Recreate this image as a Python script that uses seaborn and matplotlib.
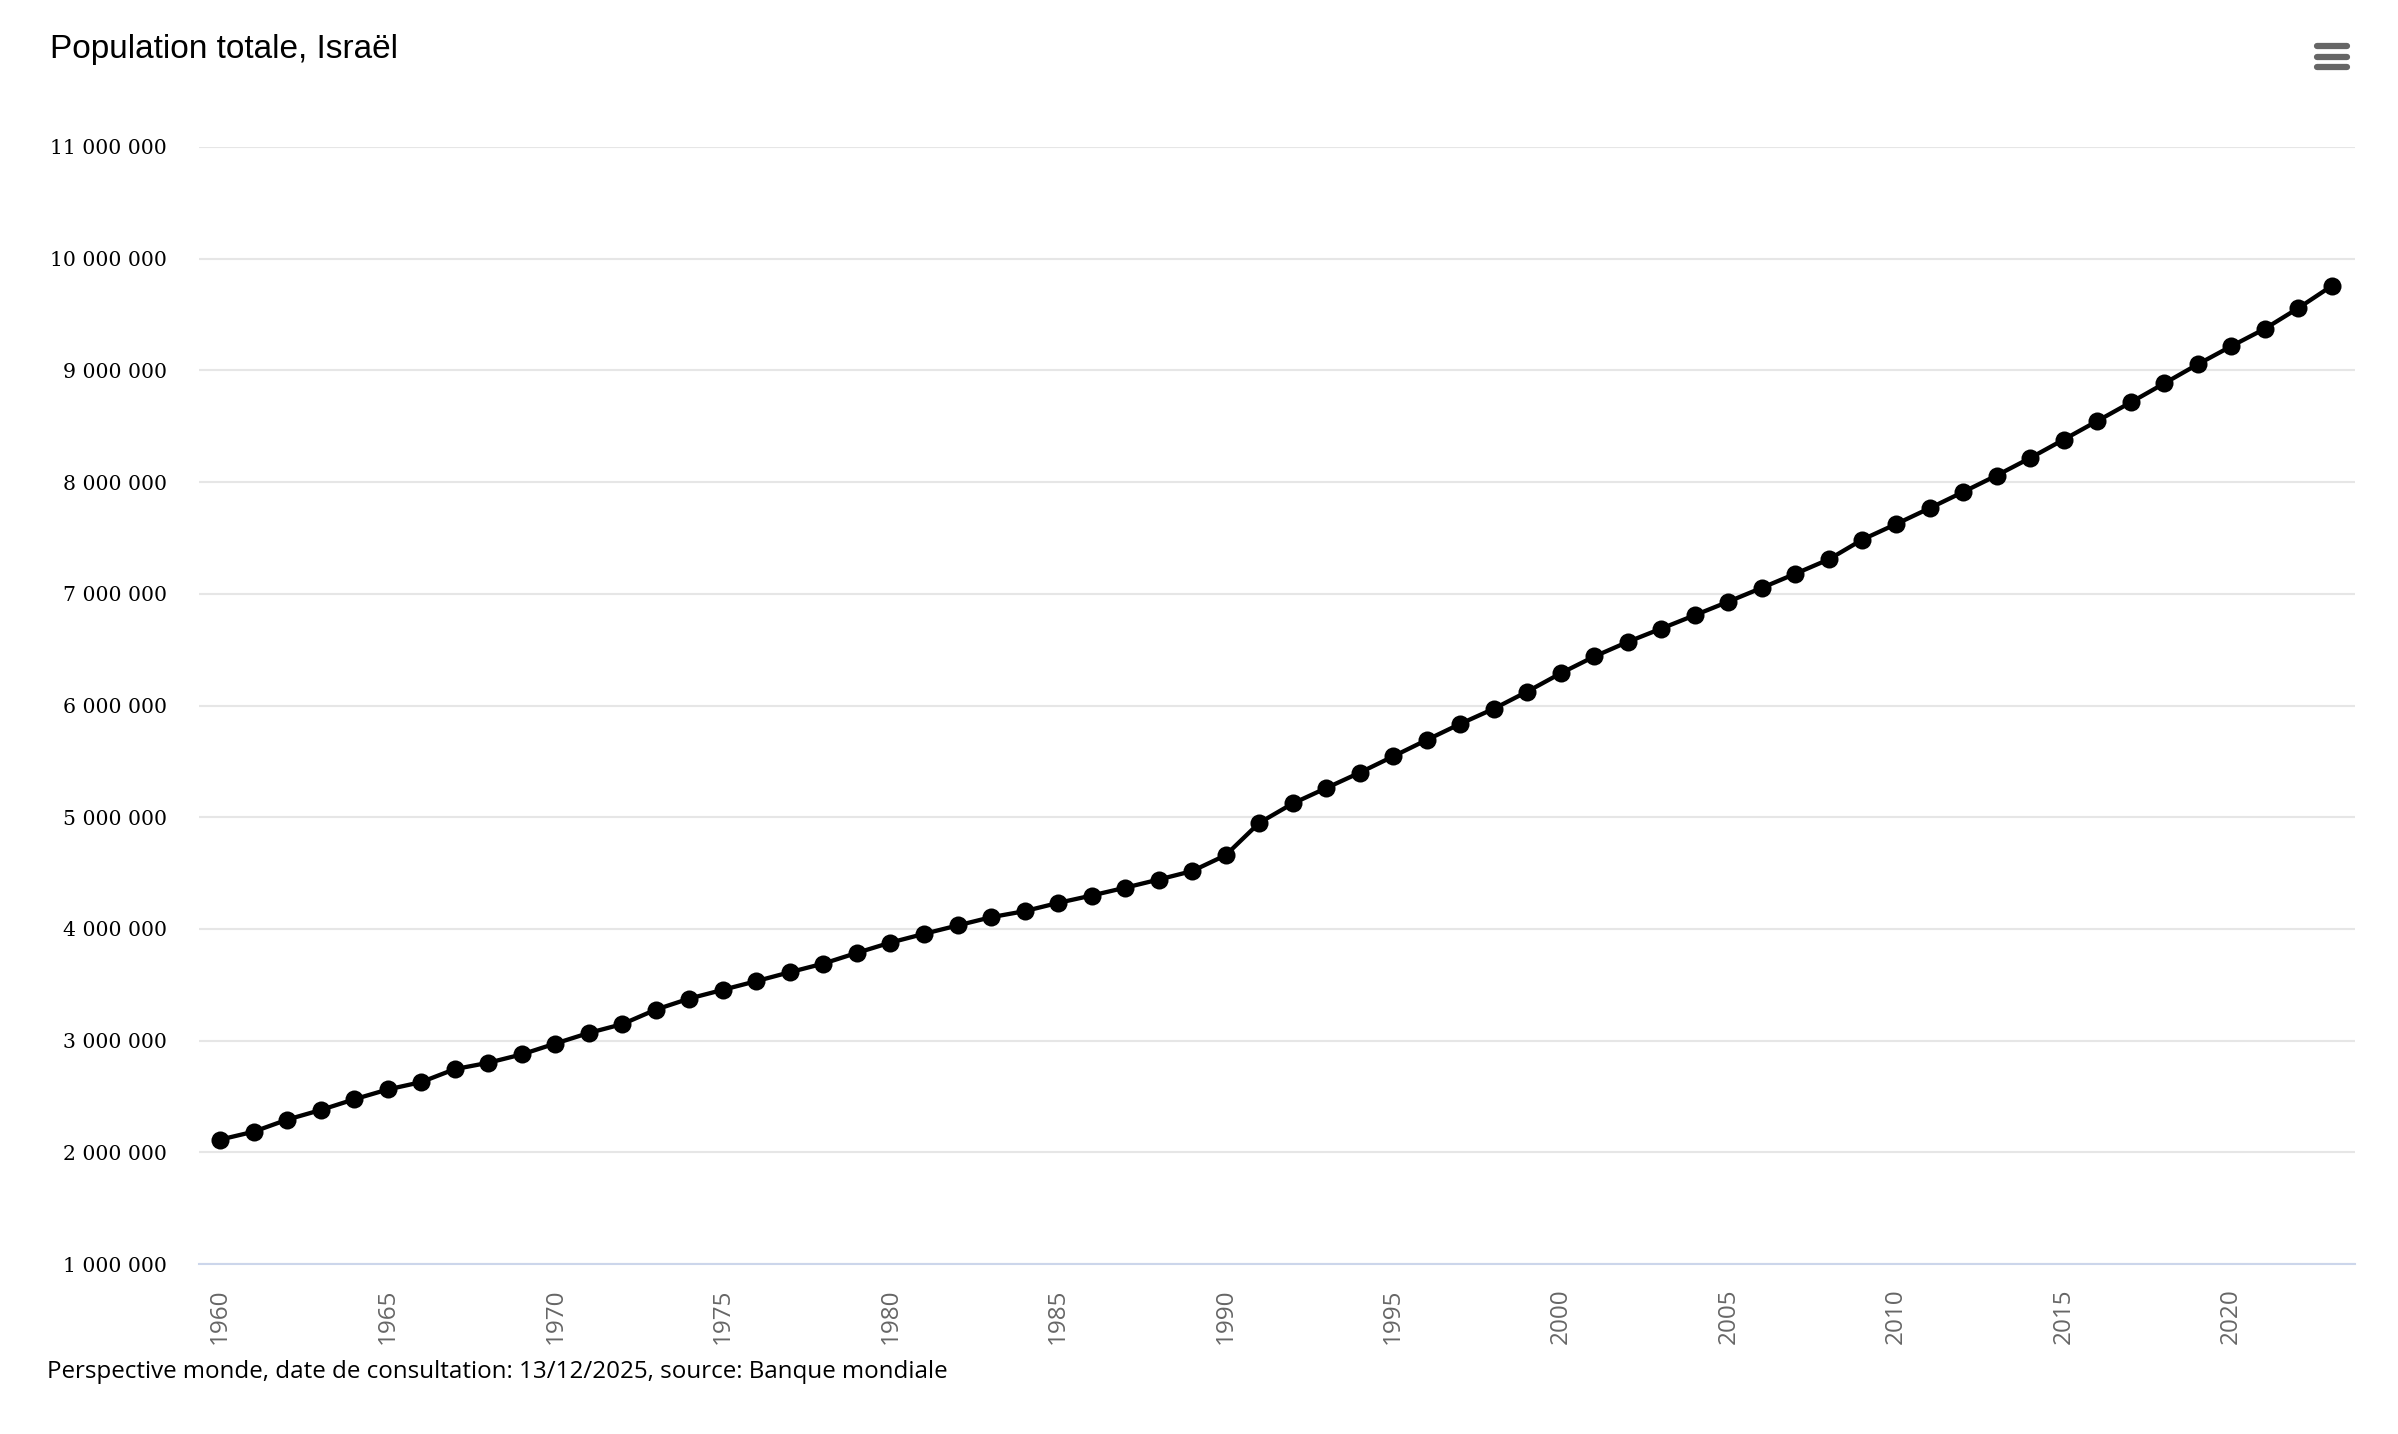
import matplotlib
matplotlib.use("Agg")
import matplotlib.pyplot as plt
from matplotlib.ticker import FuncFormatter
from matplotlib.lines import Line2D
import seaborn as sns
import pandas as pd

# data (Banque mondiale, population totale Israël)
years = list(range(1960, 2024))
population = [
    2114020, 2185000, 2293000, 2379000, 2475000, 2563000, 2629000, 2745000,
    2802000, 2877000, 2974000, 3069000, 3148000, 3278000, 3377000, 3455000,
    3533000, 3613000, 3690000, 3786000, 3878000, 3956000, 4031000, 4105000,
    4159000, 4233000, 4299000, 4369000, 4442000, 4518000, 4660000, 4949000,
    5123000, 5261000, 5399000, 5545000, 5692000, 5836000, 5971000, 6125000,
    6289000, 6439000, 6570000, 6689000, 6809000, 6930000, 7054000, 7180000,
    7309000, 7486000, 7624000, 7766000, 7911000, 8059000, 8215000, 8380000,
    8546000, 8713000, 8883000, 9054000, 9216000, 9372000, 9557000, 9756000,
]
y_ticks = [1e6 * i for i in range(1, 12)]
x_ticks = list(range(1960, 2021, 5))

title = "Population totale, Israël"
footer = "Perspective monde, date de consultation: 13/12/2025, source: Banque mondiale"

df = pd.DataFrame({"annee": years, "population": population})

sns.set_style("white")
fig = plt.figure(figsize=(23.98, 14.34), dpi=100)
ax = fig.add_axes([0.083, 0.1185, 0.899, 0.779])

sns.lineplot(data=df, x="annee", y="population", ax=ax, color="black",
             linewidth=3.1, marker="o", markersize=13, markeredgewidth=0)

ax.set_xlim(1959.37, 2023.69)
ax.set_ylim(1e6, 11e6)
ax.set_yticks(y_ticks)
ax.set_xticks(x_ticks)
ax.yaxis.set_major_formatter(FuncFormatter(lambda v, p: f"{v:,.0f}".replace(",", " ")))
ax.grid(axis="y", color="#e6e6e6", linewidth=1.5)
ax.set_axisbelow(True)
ax.set_xlabel("")
ax.set_ylabel("")

for s in ["top", "right", "left"]:
    ax.spines[s].set_visible(False)
ax.spines["bottom"].set_color("#ccd6eb")
ax.spines["bottom"].set_linewidth(1.5)

ax.tick_params(axis="y", length=0, pad=23, labelsize=14.7, labelcolor="black")
ax.tick_params(axis="x", length=13.7, width=1.5, color="#ccd6eb", pad=4,
               labelsize=17.5, labelcolor="#666666", labelrotation=90)
for lbl in ax.get_yticklabels():
    lbl.set_family("DejaVu Serif")
for lbl in ax.get_xticklabels():
    lbl.set_family("Open Sans")

fig.text(50 / 2398, 1 - 58 / 1434, title, fontsize=24, family="Liberation Sans",
         color="black", va="baseline", ha="left")
fig.text(47 / 2398, 1 - 1378 / 1434, footer, fontsize=17.4, family="Open Sans",
         color="black", va="baseline", ha="left")

# menu icon
for yy in [46, 56.5, 67]:
    fig.add_artist(Line2D([2317 / 2398, 2347 / 2398], [1 - yy / 1434] * 2,
                          color="#666666", linewidth=4.5, solid_capstyle="round"))

fig.savefig("out.png", dpi=100, facecolor="white")
